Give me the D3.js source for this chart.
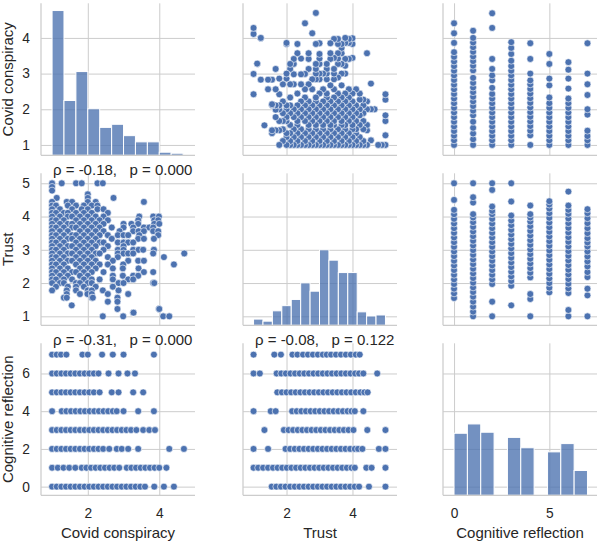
<!DOCTYPE html>
<html>
<head>
<meta charset="utf-8">
<script src="https://cdn.jsdelivr.net/npm/d3@7"></script>
<style>
  body { margin: 0; background: #fff; }
  text { font-family: "Liberation Sans", Arial, sans-serif; fill: #262626; }
</style>
</head>
<body>
<div id="chart"></div>
<script>
const width = 600;
const height = 543;

// variables of the pair grid
const varNames = ["Covid conspiracy", "Trust", "Cognitive reflection"];
const xDomains = [[0.69, 5.0], [0.68, 5.35], [-0.58, 7.5]];
const yDomains = [[0.71, 4.97], [0.73, 5.3], [-0.46, 7.6]];
const xTicks = [[2, 4], [2, 4], [0, 5]];
const yTicks = [[1, 2, 3, 4], [1, 2, 3, 4, 5], [0, 2, 4, 6]];

// histograms on the diagonal (bin edges + counts)
const covidEdges = [1, 1.333, 1.667, 2, 2.333, 2.667, 3, 3.333, 3.667, 4, 4.333, 4.667];
const covidCounts = [140, 53, 81, 45, 27, 30, 19, 13, 13, 3, 2];
const trustEdges = [1, 1.286, 1.571, 1.857, 2.143, 2.429, 2.714, 3, 3.286, 3.571, 3.857, 4.143, 4.429, 4.714, 5];
const trustCounts = [6, 4, 14, 19, 25, 41, 33, 73, 63, 51, 51, 13, 9, 10];
const crEdges = [0, 0.7, 1.4, 2.1, 2.8, 3.5, 4.2, 4.9, 5.6, 6.3, 7];
const crCounts = [60, 69, 61, 0, 56, 46, 0, 42, 50, 24];
const countMax = 147;

// Covid conspiracy vs Trust: one trust level per row, covid values in it
const ctTrust = [5.0, 4.89, 4.78, 4.67, 4.56, 4.44, 4.33, 4.22, 4.11, 4.0, 3.89, 3.78, 3.67, 3.56, 3.44, 3.33,
  3.22, 3.11, 3.0, 2.89, 2.78, 2.67, 2.56, 2.44, 2.33, 2.22, 2.11, 2.0, 1.89, 1.78, 1.67, 1.56, 1.44, 1.33,
  1.22, 1.11, 1.0];
const ctCovid = [
  [1.0, 1.27, 1.67, 1.83, 2.27, 2.42],
  [1.0],
  [1.0],
  [2.0],
  [1.13, 2.0, 2.72],
  [1.0, 1.41, 1.56, 2.0, 2.22, 3.57],
  [1.0, 1.11, 1.44, 1.67, 1.89, 2.11, 2.27],
  [1.0, 1.22, 1.56, 1.83, 2.0, 2.27, 2.44],
  [1.0, 1.11, 1.33, 1.44, 1.67, 1.89, 2.11, 2.56],
  [1.0, 1.22, 1.44, 1.56, 1.78, 2.0, 2.22, 2.44, 3.44, 3.83, 3.99],
  [1.0, 1.11, 1.33, 1.67, 1.89, 2.11, 2.33, 2.56, 3.41, 3.86, 3.97],
  [1.0, 1.22, 1.44, 1.56, 1.78, 2.0, 2.22, 2.44, 3.0, 3.22, 3.41, 3.86, 4.0],
  [1.0, 1.11, 1.33, 1.56, 1.67, 1.89, 2.11, 2.33, 2.67, 3.0, 3.27, 3.57, 3.72, 3.83],
  [1.0, 1.22, 1.44, 1.78, 2.0, 2.22, 2.44, 2.89, 3.27, 3.42, 3.57, 3.83, 3.97],
  [1.0, 1.11, 1.33, 1.56, 1.67, 1.89, 2.11, 2.33, 2.56, 2.84, 3.0, 3.13, 3.44, 3.97],
  [1.0, 1.22, 1.44, 1.56, 1.78, 2.0, 2.22, 2.67, 3.41, 3.57, 3.85],
  [1.0, 1.11, 1.33, 1.67, 1.89, 2.11, 2.33, 2.44, 2.84, 3.0, 3.13, 3.27],
  [1.0, 1.22, 1.44, 1.56, 1.78, 2.0, 2.22, 2.56, 3.0],
  [1.0, 1.11, 1.33, 1.67, 1.89, 2.11, 2.44, 2.84, 3.0, 3.27, 3.42, 3.55, 3.85],
  [1.0, 1.22, 1.44, 1.56, 1.78, 2.0, 2.22, 2.33, 2.84, 3.0, 3.13, 3.27, 3.83, 4.7],
  [1.0, 1.11, 1.33, 1.67, 1.89, 2.11, 2.56, 2.84, 4.13],
  [1.0, 1.22, 1.44, 1.56, 1.78, 2.0, 2.22, 2.7, 3.13, 3.41, 3.57],
  [1.0, 1.11, 1.33, 1.67, 1.89, 2.11, 2.33, 2.56, 2.99, 4.41],
  [1.0, 1.22, 1.44, 1.78, 2.0, 2.22, 2.7, 2.98, 3.42],
  [1.0, 1.11, 1.33, 1.56, 1.67, 1.89, 2.11, 2.44, 3.57, 3.83],
  [1.0, 1.22, 1.44, 1.78, 2.0, 2.7, 2.98, 3.27, 3.41],
  [1.0, 1.11, 1.33, 1.56, 1.89, 2.11, 2.33, 2.7, 3.13, 3.27],
  [1.0, 1.22, 1.33, 1.67, 1.78, 2.0, 2.11, 2.86, 3.0, 3.83, 3.86],
  [1.11, 1.44, 1.67, 1.89, 2.22, 2.7],
  [1.0, 1.41, 1.67, 2.0, 2.11, 2.42, 2.86],
  [1.41, 1.78, 1.99, 2.11, 2.56, 3.13],
  [1.33, 1.41, 2.11, 2.14, 2.83],
  [2.56, 2.83],
  [1.55],
  [2.83, 3.99, 4.0],
  [3.27, 3.28],
  [2.42, 2.99, 4.11, 4.28]
];

// Cognitive reflection score levels, with the covid / trust values seen at each level
const crLevels = [0, 1, 2, 3, 4, 5, 6, 7];
const covidByCR = [
  [1.0, 1.13, 1.26, 1.39, 1.52, 1.65, 1.78, 1.91, 2.04, 2.17, 2.3, 2.43, 2.56, 2.69, 2.82, 2.95, 3.08, 3.21, 3.34, 3.47, 3.6, 3.86, 4.13, 4.41],
  [1.0, 1.16, 1.32, 1.48, 1.65, 1.83, 1.96, 2.09, 2.22, 2.35, 2.48, 2.61, 2.74, 2.88, 3.09, 3.22, 3.35, 3.48, 3.61, 3.74, 3.87, 4.0, 4.2],
  [1.0, 1.13, 1.26, 1.39, 1.52, 1.65, 1.78, 1.91, 2.04, 2.17, 2.3, 2.43, 2.6, 2.81, 2.95, 3.13, 3.41, 4.28, 4.69],
  [1.0, 1.13, 1.26, 1.39, 1.52, 1.65, 1.78, 1.91, 2.04, 2.17, 2.3, 2.43, 2.56, 2.69, 2.82, 2.95, 3.08, 3.21, 3.36, 3.55, 3.72, 3.88],
  [1.0, 1.27, 1.4, 1.53, 1.66, 1.79, 1.92, 2.05, 2.18, 2.31, 2.44, 2.57, 2.7, 2.81, 3.0, 3.41, 3.85],
  [1.0, 1.13, 1.26, 1.39, 1.52, 1.65, 1.78, 1.91, 2.04, 2.17, 2.33, 2.67, 2.86, 3.27, 3.55],
  [1.0, 1.13, 1.26, 1.39, 1.52, 1.65, 1.78, 1.91, 2.04, 2.17, 2.3, 2.58, 2.86, 3.11, 3.32],
  [1.0, 1.13, 1.25, 1.4, 1.85, 2.0, 2.4, 2.7, 3.0, 3.85]
];
const trustByCR = [
  [1.55, 1.69, 1.83, 1.97, 2.11, 2.25, 2.39, 2.53, 2.67, 2.81, 2.95, 3.09, 3.23, 3.37, 3.51, 3.65, 3.79, 3.93, 4.07, 4.2, 4.5, 5.0],
  [1.0, 1.14, 1.29, 1.44, 1.59, 1.73, 1.87, 2.01, 2.15, 2.29, 2.43, 2.57, 2.71, 2.85, 2.99, 3.13, 3.27, 3.41, 3.55, 3.69, 3.83, 3.97, 4.07, 4.42, 4.58, 5.0],
  [1.0, 1.44, 1.97, 2.11, 2.25, 2.39, 2.53, 2.67, 2.81, 2.95, 3.09, 3.23, 3.37, 3.51, 3.65, 3.79, 3.93, 4.07, 4.17, 4.3, 4.8, 5.0],
  [1.33, 1.92, 2.06, 2.2, 2.34, 2.48, 2.62, 2.76, 2.9, 3.04, 3.18, 3.32, 3.46, 3.6, 3.74, 3.88, 4.03, 4.45, 5.0],
  [1.0, 1.52, 1.67, 2.17, 2.31, 2.45, 2.59, 2.73, 2.87, 3.01, 3.15, 3.29, 3.43, 3.57, 3.71, 3.85, 3.97, 4.07, 4.33],
  [1.72, 1.86, 2.0, 2.14, 2.28, 2.42, 2.56, 2.7, 2.84, 2.98, 3.12, 3.26, 3.4, 3.54, 3.68, 3.82, 3.96, 4.1, 4.24, 4.36, 4.46],
  [1.0, 1.19, 1.7, 1.84, 1.98, 2.12, 2.26, 2.4, 2.54, 2.68, 2.82, 2.96, 3.1, 3.24, 3.38, 3.52, 3.66, 3.8, 3.94, 4.08, 4.2, 4.33, 4.75],
  [1.0, 1.63, 1.83, 2.18, 2.33, 2.5, 2.65, 2.8, 2.95, 3.1, 3.22, 3.35, 3.5, 3.65, 3.8, 3.95, 4.1, 4.22]
];

// correlation notes in the lower triangle
const corrCells = [[1, 0], [2, 0], [2, 1]];
const corrRho = ["-0.18", "-0.31", "-0.08"];
const corrP = ["0.000", "0.000", "0.122"];

// layout
const colX = [41, 243, 443];
const colW = 154;
const rowY = [3.3, 173.3, 343.3];
const rowH = 152;
const blue = "#4c72b0";
const gridColor = "#cccccc";

// records: [covid, trust, cr]
const recs01 = [], recs02 = [], recs12 = [];
ctTrust.forEach((t, i) => ctCovid[i].forEach((c) => recs01.push([c, t, null])));
crLevels.forEach((k, i) => covidByCR[i].forEach((c) => recs02.push([c, null, k])));
crLevels.forEach((k, i) => trustByCR[i].forEach((t) => recs12.push([null, t, k])));
const recsFor = (a, b) => ({ "01": recs01, "02": recs02, "12": recs12 })[[a, b].sort().join("")];

const hists = [
  { edges: covidEdges, counts: covidCounts },
  { edges: trustEdges, counts: trustCounts },
  { edges: crEdges, counts: crCounts }
];

const svg = d3.select("#chart").append("svg")
  .attr("width", width)
  .attr("height", height);

for (let r = 0; r < 3; r++) {
  for (let c = 0; c < 3; c++) {
    const xScale = d3.scaleLinear().domain(xDomains[c]).range([colX[c], colX[c] + colW]);
    const yScale = d3.scaleLinear().domain(yDomains[r]).range([rowY[r] + rowH, rowY[r]]);
    const g = svg.append("g");

    // grid
    g.append("g")
      .attr("transform", `translate(0,${rowY[r] + rowH})`)
      .call(d3.axisBottom(xScale).tickValues(xTicks[c]).tickSize(-rowH).tickFormat(""))
      .call((a) => a.select(".domain").remove())
      .selectAll("line").attr("stroke", gridColor).attr("stroke-width", 1);
    g.append("g")
      .attr("transform", `translate(${colX[c]},0)`)
      .call(d3.axisLeft(yScale).tickValues(yTicks[r]).tickSize(-colW).tickFormat(""))
      .call((a) => a.select(".domain").remove())
      .selectAll("line").attr("stroke", gridColor).attr("stroke-width", 1);

    if (r === c) {
      const h = hists[c];
      const cScale = d3.scaleLinear().domain([0, countMax]).range([rowY[r] + rowH, rowY[r]]);
      g.selectAll(".bar")
        .data(h.counts.map((n, i) => ({ n, x0: h.edges[i], x1: h.edges[i + 1] })).filter((d) => d.n > 0))
        .enter()
        .append("rect")
        .attr("class", "bar")
        .attr("x", (d) => xScale(d.x0))
        .attr("width", (d) => xScale(d.x1) - xScale(d.x0))
        .attr("y", (d) => cScale(d.n))
        .attr("height", (d) => cScale(0) - cScale(d.n))
        .attr("fill", blue)
        .attr("fill-opacity", 0.78)
        .attr("stroke", "#fff")
        .attr("stroke-width", 1);
    } else {
      g.selectAll(".dot")
        .data(recsFor(r, c))
        .enter()
        .append("circle")
        .attr("class", "dot")
        .attr("cx", (d) => xScale(d[c]))
        .attr("cy", (d) => yScale(d[r]))
        .attr("r", 3.45)
        .attr("fill", blue)
        .attr("stroke", "#fff")
        .attr("stroke-width", 0.6);
    }

    // spines (left + bottom)
    g.append("line")
      .attr("x1", colX[c]).attr("x2", colX[c])
      .attr("y1", rowY[r]).attr("y2", rowY[r] + rowH)
      .attr("stroke", gridColor).attr("stroke-width", 1.25);
    g.append("line")
      .attr("x1", colX[c]).attr("x2", colX[c] + colW)
      .attr("y1", rowY[r] + rowH).attr("y2", rowY[r] + rowH)
      .attr("stroke", gridColor).attr("stroke-width", 1.25);

    // tick labels on outer panels
    if (c === 0) {
      const ax = g.append("g")
        .attr("transform", `translate(${colX[c]},0)`)
        .call(d3.axisLeft(yScale).tickValues(yTicks[r]).tickSize(0).tickPadding(11).tickFormat(d3.format("d")));
      ax.select(".domain").remove();
      ax.selectAll("text").attr("font-size", 13.75).attr("font-family", null).style("fill", "#262626");
      svg.append("text")
        .attr("transform", `translate(13,${rowY[r] + rowH / 2}) rotate(-90)`)
        .attr("text-anchor", "middle")
        .attr("font-size", 15)
        .text(varNames[r]);
    }
    if (r === 2) {
      const ax = g.append("g")
        .attr("transform", `translate(0,${rowY[r] + rowH})`)
        .call(d3.axisBottom(xScale).tickValues(xTicks[c]).tickSize(0).tickPadding(13).tickFormat(d3.format("d")));
      ax.select(".domain").remove();
      ax.selectAll("text").attr("font-size", 13.75).attr("font-family", null).style("fill", "#262626");
      svg.append("text")
        .attr("x", colX[c] + colW / 2)
        .attr("y", 537.5)
        .attr("text-anchor", "middle")
        .attr("font-size", 15)
        .text(varNames[c]);
    }
  }
}

// correlation annotations
corrCells.forEach(([r, c], i) => {
  svg.append("text")
    .attr("x", colX[c] + 12)
    .attr("y", rowY[r] + 1.7)
    .attr("font-size", 15)
    .style("white-space", "pre")
    .text("ρ = " + corrRho[i] + ",   p = " + corrP[i]);
});
</script>
</body>
</html>
